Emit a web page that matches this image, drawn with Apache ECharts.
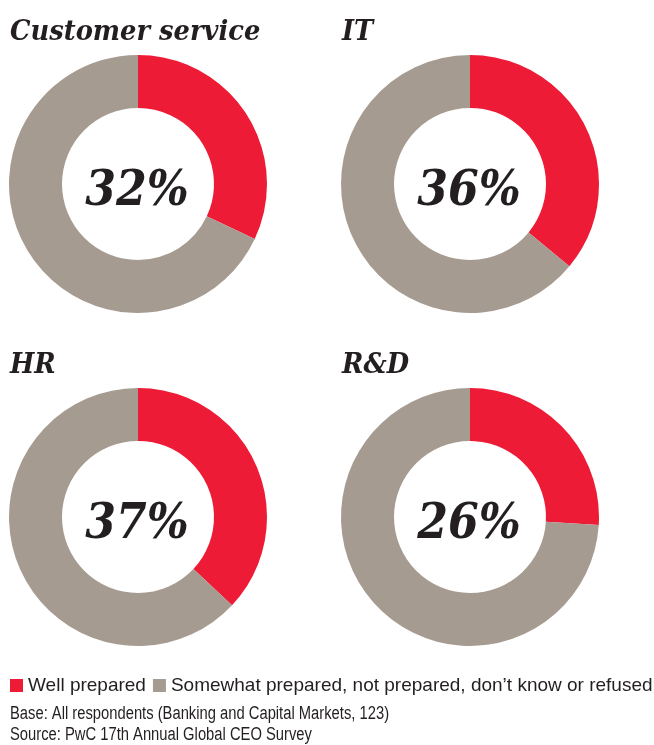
<!DOCTYPE html>
<html>
<head>
<meta charset="utf-8">
<script src="https://cdn.jsdelivr.net/npm/echarts@6/dist/echarts.min.js"></script>
<style>
  html, body { margin: 0; padding: 0; background: #fff; }
  #main { width: 654px; height: 745px; }
</style>
</head>
<body>
<div id="main"></div>
<script>
// data
const functions = ["Customer service", "IT", "HR", "R&D"];
const wellPrepared = [32, 36, 37, 26];
const seriesNames = ["Well prepared", "Somewhat prepared, not prepared, don\u2019t know or refused"];
const footnotes = [
  "Base: All respondents (Banking and Capital Markets, 123)",
  "Source: PwC 17th Annual Global CEO Survey"
];

const RED = "#ED1B36";
const GREY = "#A69B90";
const INK = "#231F20";
const centers = [[138, 184], [470, 184], [138, 517], [470, 517]];
const titlePos = [[10, 33], [342, 33], [10, 366], [342, 366]];

const chart = echarts.init(document.getElementById("main"));

// plain text helper, squeezed a little so the widths match the print fonts
function txt(text, x, y, size, opts) {
  return {
    type: "text",
    x: x,
    y: y,
    scaleX: opts.scaleX || 1,
    silent: true,
    style: {
      text: text,
      fill: INK,
      fontFamily: opts.family,
      fontSize: size,
      fontWeight: opts.weight || "normal",
      fontStyle: opts.style || "normal",
      align: opts.align || "left",
      textAlign: opts.align || "left",
      verticalAlign: "middle",
      textVerticalAlign: "middle"
    }
  };
}

const graphics = [];
const series = [];
functions.forEach((name, i) => {
  graphics.push(txt(name, titlePos[i][0], titlePos[i][1], 28,
    { family: "DejaVu Serif", weight: "bold", style: "italic", scaleX: 0.92 }));
  graphics.push(txt(wellPrepared[i] + "%", centers[i][0] - 1, centers[i][1] + 9, 48,
    { family: "DejaVu Serif", weight: "bold", style: "italic", scaleX: 0.92, align: "center" }));
  series.push({
    type: "pie",
    center: centers[i],
    radius: [76, 129],
    startAngle: 90,
    clockwise: true,
    silent: true,
    label: { show: false },
    labelLine: { show: false },
    data: [
      { name: seriesNames[0], value: wellPrepared[i], itemStyle: { color: RED } },
      { name: seriesNames[1], value: 100 - wellPrepared[i], itemStyle: { color: GREY } }
    ]
  });
});

footnotes.forEach((t, i) => {
  graphics.push(txt(t, 10, 714 + i * 21, 18, { family: "Liberation Sans", scaleX: 0.82 }));
});

chart.setOption({
  animation: false,
  legend: {
    left: 10,
    top: 676,
    width: 660,
    padding: 0,
    itemWidth: 13,
    itemHeight: 13,
    itemGap: 7,
    icon: "rect",
    data: seriesNames,
    textStyle: { fontFamily: "Liberation Sans", fontSize: 19, color: INK }
  },
  graphic: graphics,
  series: series
});
</script>
</body>
</html>
